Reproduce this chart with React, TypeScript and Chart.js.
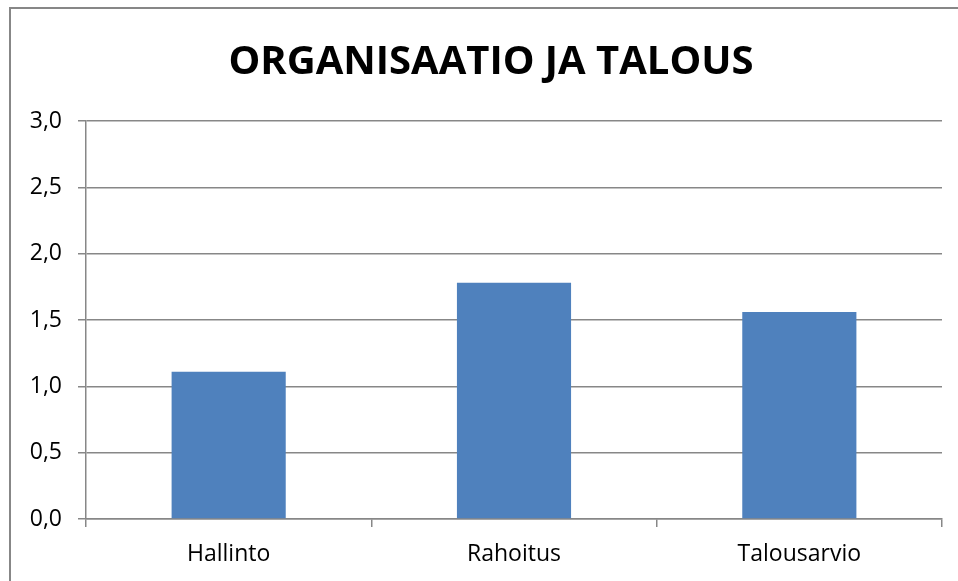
import React, { useEffect, useRef } from "react";
import { Chart, registerables } from "chart.js";

Chart.register(...registerables);

const TITLE = "ORGANISAATIO JA TALOUS";
const categories = ["Hallinto", "Rahoitus", "Talousarvio"];
const values = [1.11, 1.78, 1.56];
const yMin = 0;
const yMax = 3;
const yStep = 0.5;

const FONT = "'Open Sans', 'Noto Sans', sans-serif";
const GRID = "#878787";

const titlePlugin = {
  id: "customTitle",
  afterDraw(chart: any) {
    const c = chart.ctx;
    c.save();
    c.fillStyle = "#000";
    c.font = `bold 40px ${FONT}`;
    c.textAlign = "center";
    c.textBaseline = "alphabetic";
    c.fillText(TITLE, 491, 74);
    c.restore();
  },
};

export default function App() {
  const ref = useRef<HTMLCanvasElement | null>(null);

  useEffect(() => {
    document.body.style.margin = "0";
    const ctx = ref.current!.getContext("2d")!;
    const chart = new Chart(ctx, {
      type: "bar",
      data: {
        labels: categories,
        datasets: [
          {
            data: values,
            backgroundColor: "#4F81BD",
            borderWidth: 0,
            categoryPercentage: 1,
            barPercentage: 0.4,
          },
        ],
      },
      plugins: [titlePlugin],
      options: {
        responsive: false,
        animation: false,
        layout: { padding: { left: 0, right: 16, top: 121, bottom: 0 } },
        plugins: {
          legend: { display: false },
          tooltip: { enabled: false },
          title: { display: false },
        },
        scales: {
          x: {
            grid: {
              display: true,
              drawOnChartArea: false,
              drawTicks: true,
              tickLength: 8,
              color: GRID,
              lineWidth: 1.5,
              offset: true,
            },
            border: { display: true, color: GRID, width: 1.5 },
            ticks: {
              color: "#000",
              font: { family: FONT, size: 23 },
              padding: 14,
            },
            afterFit: (s: any) => {
              s.height = 62;
            },
          },
          y: {
            min: yMin,
            max: yMax,
            grid: {
              color: GRID,
              lineWidth: 1.5,
              tickLength: 8,
            },
            border: { display: true, color: GRID, width: 1.5 },
            ticks: {
              stepSize: yStep,
              color: "#000",
              font: { family: FONT, size: 23 },
              padding: 16,
              callback: (v: any) => Number(v).toFixed(1).replace(".", ","),
            },
            afterFit: (s: any) => {
              s.width = 86;
            },
          },
        },
      },
    });
    return () => chart.destroy();
  }, []);

  return (
    <div style={{ position: "fixed", left: 0, top: 0, width: 958, height: 581, background: "#fff", overflow: "hidden" }}>
      <canvas ref={ref} width={958} height={581} style={{ position: "absolute", left: 0, top: 0 }} />
      <div
        style={{
          position: "absolute",
          left: 9,
          top: 7,
          width: 1000,
          height: 700,
          borderLeft: "2px solid #878787",
          borderTop: "2px solid #878787",
          pointerEvents: "none",
        }}
      />
    </div>
  );
}
